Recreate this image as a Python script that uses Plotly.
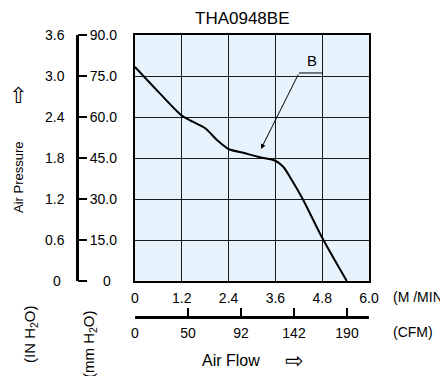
import plotly.graph_objects as go

# ---- data ----
flow_m3min = [0, 0.6, 1.2, 1.4, 1.8, 2.1, 2.4, 2.8, 3.2, 3.6, 3.8, 4.0, 4.3, 4.8, 5.43]
pressure_mm = [78.3, 69.2, 60.5, 58.9, 55.9, 51.6, 48.3, 46.8, 45.3, 44.0, 41.8, 37.4, 30.0, 15.8, 0]

x_ticks = [0, 1.2, 2.4, 3.6, 4.8, 6.0]
x_ticktext = ["0", "1.2", "2.4", "3.6", "4.8", "6.0"]
mm_ticks = [0, 15, 30, 45, 60, 75, 90]
mm_ticktext = ["0", "15.0", "30.0", "45.0", "60.0", "75.0", "90.0"]
in_ticks = [0, 0.6, 1.2, 1.8, 2.4, 3.0, 3.6]
in_ticktext = ["0", "0.6", "1.2", "1.8", "2.4", "3.0", "3.6"]
cfm_ticktext = ["0", "50", "92", "142", "190"]

title = "THA0948BE"
point_label = "B"
point_B = (3.23, 48.3)
label_B = (4.54, 80.8)

# ---- layout geometry (pixels, in screenshot coordinates) ----
W, H = 448, 376
OFF = 8  # page body margin
ML, MR, MT, MB = 20, 80, 20, 20
PW, PH = W - ML - MR, H - MT - MB
def px(x):
    return (x - OFF - ML) / PW
def py(y):
    return (H - MB - (y - OFF)) / PH

FONT = "Liberation Sans, Arial, sans-serif"
TICK = 14
fig = go.Figure()

fig.add_trace(go.Scatter(x=flow_m3min, y=pressure_mm, mode="lines",
                         line=dict(color="black", width=2, shape="spline", smoothing=0.8),
                         hoverinfo="skip", showlegend=False))
# dummy traces to create the extra axes
fig.add_trace(go.Scatter(x=[None], y=[None], xaxis="x2", yaxis="y", showlegend=False))
fig.add_trace(go.Scatter(x=[None], y=[None], xaxis="x", yaxis="y2", showlegend=False))
fig.add_trace(go.Scatter(x=[None], y=[None], xaxis="x", yaxis="y3", showlegend=False))

xdom = [px(135), px(369)]
ydom = [py(281), py(35)]
axis_x = px(77)

# zero labels of the two pressure axes are drawn separately (they sit apart in the reference)
in_labels = [""] + in_ticktext[1:]
mm_labels = [""] + mm_ticktext[1:]

fig.update_layout(
    width=W, height=H,
    margin=dict(l=ML, r=MR, t=MT, b=MB, autoexpand=False),
    paper_bgcolor="white",
    plot_bgcolor="#e7f3fc",
    font=dict(family=FONT, size=TICK, color="black"),
    xaxis=dict(domain=xdom, range=[0, 6], tickvals=x_ticks, ticktext=x_ticktext,
               showgrid=True, gridcolor="#1a1a1a", gridwidth=1, zeroline=False,
               showline=True, mirror=True, linecolor="black", linewidth=2,
               ticks="", ticklabelstandoff=3, tickfont=dict(size=TICK), automargin=False),
    yaxis=dict(domain=ydom, range=[0, 90], tickvals=mm_ticks, showticklabels=False,
               showgrid=True, gridcolor="#1a1a1a", gridwidth=1, zeroline=False,
               showline=True, mirror=True, linecolor="black", linewidth=2, ticks="",
               automargin=False),
    xaxis2=dict(domain=xdom, overlaying="x", anchor="free", position=py(317), side="bottom",
                range=[0, 234 / 53], tickvals=list(range(len(cfm_ticktext))), ticktext=cfm_ticktext,
                showgrid=False, zeroline=False, showline=True, linecolor="black", linewidth=2.5,
                ticks="inside", ticklen=8, tickwidth=1.5, tickcolor="black",
                ticklabelstandoff=2, tickfont=dict(size=TICK), automargin=False),
    yaxis2=dict(domain=ydom, overlaying="y", anchor="free", position=axis_x, side="left",
                range=[0, 3.6], tickvals=in_ticks, ticktext=in_labels,
                showgrid=False, zeroline=False, showline=True, linecolor="black", linewidth=2.5,
                ticks="", ticklabelstandoff=9, tickfont=dict(size=TICK), automargin=False),
    yaxis3=dict(domain=ydom, overlaying="y", anchor="free", position=axis_x, side="right",
                range=[0, 90], tickvals=mm_ticks, ticktext=mm_labels,
                showgrid=False, zeroline=False, showline=False,
                ticks="outside", ticklen=9, tickwidth=2, tickcolor="black",
                ticklabelstandoff=0, tickfont=dict(size=TICK), automargin=False),
)

ARROWFONT = "DejaVu Sans, sans-serif"
ann = [
    dict(text=title, x=px(242), y=py(18), font=dict(size=17)),
    dict(text="Air Pressure", x=px(18), y=py(177), textangle=-90, font=dict(size=13)),
    dict(text="⇧", x=px(18), y=py(96), font=dict(size=22, family=ARROWFONT)),
    dict(text="(IN H<sub>2</sub>O)", x=px(30), y=py(334), textangle=-90, font=dict(size=15)),
    dict(text="(mm H<sub>2</sub>O)", x=px(89), y=py(344), textangle=-90, font=dict(size=15)),
    dict(text="(M /MIN)", x=px(391), y=py(297), xanchor="left", font=dict(size=TICK)),
    dict(text="(CFM)", x=px(391), y=py(332), xanchor="left", font=dict(size=TICK)),
    dict(text="Air Flow", x=px(231), y=py(360), font=dict(size=16)),
    dict(text="⇨", x=px(294), y=py(360), font=dict(size=22, family=ARROWFONT)),
    dict(text=in_ticktext[0], x=px(57), y=py(281), font=dict(size=TICK)),
    dict(text=mm_ticktext[0], x=px(107), y=py(281), font=dict(size=TICK)),
]
for a in ann:
    a.setdefault("xanchor", "center")
    a.update(xref="paper", yref="paper", yanchor="middle", showarrow=False)
    fig.add_annotation(**a)

fig.add_annotation(text=point_label, x=label_B[0], y=label_B[1], xref="x", yref="y",
                   xanchor="center", yanchor="middle", showarrow=False, font=dict(size=15))
fig.add_annotation(x=point_B[0], y=point_B[1], ax=4.205, ay=76.1, xref="x", yref="y",
                   axref="x", ayref="y", text="", showarrow=True, arrowhead=2,
                   arrowsize=1, arrowwidth=1, arrowcolor="black")
fig.add_shape(type="line", x0=4.205, x1=4.82, y0=76.1, y1=76.1, xref="x", yref="y",
              line=dict(color="black", width=1))

fig.write_html("out.html")
